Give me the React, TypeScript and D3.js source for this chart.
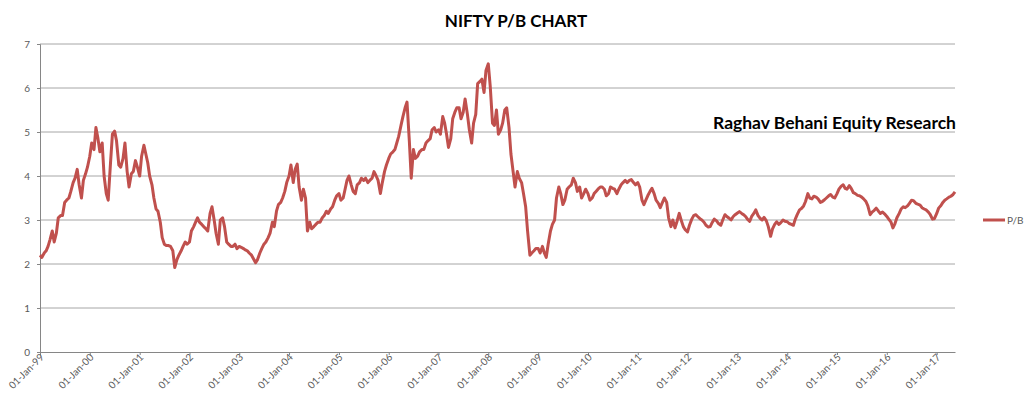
import React, { useEffect, useRef } from 'react';
import * as d3 from 'd3';

// half-monthly readings (1st and 15th of each month), P/B ratio
const pb1999 = [2.2, 2.15, 2.25, 2.3, 2.4, 2.55, 2.75, 2.5, 2.7, 3.05, 3.1, 3.1, 3.4, 3.45, 3.5, 3.65, 3.85, 3.95, 4.15, 3.8, 3.5, 3.9, 4.05, 4.2];
const pb2000 = [4.45, 4.75, 4.6, 5.1, 4.85, 4.55, 4.75, 4.0, 3.6, 3.45, 4.3, 4.95, 5.02, 4.8, 4.25, 4.2, 4.4, 4.75, 4.1, 3.75, 4.05, 4.1, 4.35, 4.2];
const pb2001 = [4.0, 4.45, 4.7, 4.5, 4.3, 4.0, 3.8, 3.5, 3.25, 3.2, 2.95, 2.6, 2.45, 2.42, 2.42, 2.4, 2.3, 1.92, 2.1, 2.2, 2.3, 2.4, 2.5, 2.45];
const pb2002 = [2.5, 2.75, 2.85, 2.95, 3.05, 2.95, 2.9, 2.85, 2.8, 2.75, 3.15, 3.3, 3.0, 2.7, 2.45, 3.0, 3.05, 2.85, 2.5, 2.45, 2.4, 2.4, 2.45, 2.35];
const pb2003 = [2.4, 2.38, 2.35, 2.32, 2.3, 2.25, 2.2, 2.12, 2.03, 2.1, 2.25, 2.35, 2.45, 2.5, 2.6, 2.7, 2.95, 2.85, 3.2, 3.35, 3.4, 3.5, 3.65, 3.85];
const pb2004 = [4.0, 4.25, 3.85, 4.15, 4.27, 3.75, 3.45, 3.7, 3.5, 2.75, 2.95, 2.8, 2.85, 2.9, 2.95, 2.95, 3.05, 3.1, 3.2, 3.15, 3.25, 3.3, 3.45, 3.55];
const pb2005 = [3.6, 3.45, 3.5, 3.7, 3.9, 4.0, 3.8, 3.65, 3.6, 3.8, 3.85, 3.95, 3.9, 3.95, 3.85, 3.9, 3.95, 4.1, 4.0, 3.9, 3.6, 3.85, 4.1, 4.25];
const pb2006 = [4.4, 4.5, 4.55, 4.6, 4.75, 4.9, 5.15, 5.35, 5.55, 5.68, 4.8, 3.95, 4.6, 4.4, 4.45, 4.55, 4.6, 4.6, 4.75, 4.8, 4.85, 5.05, 5.1, 5.0];
const pb2007 = [5.05, 4.95, 5.35, 5.2, 4.95, 4.65, 4.85, 5.3, 5.45, 5.55, 5.55, 5.3, 5.45, 5.75, 5.4, 5.05, 4.75, 5.2, 5.4, 6.1, 6.15, 6.2, 5.9, 6.4];
const pb2008 = [6.55, 6.05, 5.2, 5.15, 5.5, 4.95, 5.05, 5.2, 5.5, 5.55, 5.1, 4.5, 4.1, 3.75, 4.1, 3.95, 3.85, 3.6, 3.3, 2.75, 2.2, 2.25, 2.3, 2.35];
const pb2009 = [2.35, 2.25, 2.4, 2.25, 2.15, 2.45, 2.75, 2.9, 3.0, 3.5, 3.75, 3.6, 3.35, 3.45, 3.7, 3.75, 3.8, 3.95, 3.85, 3.65, 3.75, 3.5, 3.6, 3.7];
const pb2010 = [3.6, 3.45, 3.5, 3.6, 3.65, 3.7, 3.75, 3.75, 3.7, 3.55, 3.6, 3.75, 3.72, 3.7, 3.6, 3.7, 3.8, 3.85, 3.9, 3.85, 3.9, 3.92, 3.85, 3.8];
const pb2011 = [3.85, 3.75, 3.45, 3.35, 3.45, 3.55, 3.65, 3.72, 3.6, 3.45, 3.38, 3.28, 3.4, 3.5, 3.4, 3.05, 2.85, 3.0, 2.82, 2.96, 3.15, 3.0, 2.85, 2.78];
const pb2012 = [2.73, 2.88, 3.02, 3.1, 3.12, 3.08, 3.03, 3.0, 2.95, 2.88, 2.84, 2.85, 2.95, 3.02, 2.98, 2.92, 2.88, 3.0, 3.12, 3.08, 3.04, 3.0, 3.08, 3.12];
const pb2013 = [3.16, 3.19, 3.15, 3.12, 3.08, 3.02, 2.97, 3.08, 3.15, 3.23, 3.1, 3.04, 3.0, 3.06, 2.98, 2.85, 2.63, 2.8, 2.9, 2.96, 2.9, 2.94, 3.0, 2.97];
const pb2014 = [2.96, 2.92, 2.9, 2.88, 3.02, 3.12, 3.23, 3.26, 3.32, 3.42, 3.6, 3.5, 3.48, 3.54, 3.52, 3.48, 3.4, 3.42, 3.46, 3.5, 3.55, 3.58, 3.52, 3.5];
const pb2015 = [3.6, 3.7, 3.77, 3.8, 3.72, 3.7, 3.78, 3.72, 3.62, 3.6, 3.56, 3.55, 3.52, 3.48, 3.42, 3.32, 3.12, 3.18, 3.22, 3.27, 3.2, 3.15, 3.18, 3.14];
const pb2016 = [3.08, 3.02, 2.95, 2.82, 2.92, 3.05, 3.15, 3.25, 3.3, 3.28, 3.32, 3.38, 3.45, 3.44, 3.38, 3.36, 3.34, 3.28, 3.25, 3.23, 3.18, 3.12, 3.02, 3.03];
const pb2017 = [3.15, 3.27, 3.33, 3.4, 3.45, 3.48, 3.52, 3.54, 3.58, 3.64];

const years: [number, number[]][] = [
  [1999, pb1999], [2000, pb2000], [2001, pb2001], [2002, pb2002], [2003, pb2003],
  [2004, pb2004], [2005, pb2005], [2006, pb2006], [2007, pb2007], [2008, pb2008],
  [2009, pb2009], [2010, pb2010], [2011, pb2011], [2012, pb2012], [2013, pb2013],
  [2014, pb2014], [2015, pb2015], [2016, pb2016], [2017, pb2017],
];

const yTicks = [0, 1, 2, 3, 4, 5, 6, 7];
const tickYears = d3.range(1999, 2018);

const title = 'NIFTY P/B CHART';
const watermark = 'Raghav Behani Equity Research';
const seriesName = 'P/B';

interface Point { date: Date; value: number }

const App: React.FC = () => {
  const ref = useRef<SVGSVGElement>(null);

  useEffect(() => {
    const data: Point[] = [];
    years.forEach(([yr, vals]) => {
      vals.forEach((v, i) => {
        data.push({ date: new Date(yr, Math.floor(i / 2), i % 2 === 0 ? 1 : 15), value: v });
      });
    });

    const svg = d3.select(ref.current);
    svg.selectAll('*').remove();

    const left = 40, right = 955, top = 44, bottom = 352;
    const font = 'Lato, "Open Sans", sans-serif';

    const x = d3.scaleTime()
      .domain([new Date(1999, 0, 1), new Date(2017, 4, 15)])
      .range([left, right]);
    const y = d3.scaleLinear().domain([0, 7]).range([bottom, top]);

    // gridlines
    svg.append('g')
      .selectAll('line')
      .data(yTicks.slice(1))
      .enter().append('line')
      .attr('x1', left).attr('x2', right)
      .attr('y1', d => y(d)).attr('y2', d => y(d))
      .attr('stroke', '#a6a6a6').attr('stroke-width', 1);

    // y axis
    const yAxis = svg.append('g')
      .attr('transform', `translate(${left},0)`)
      .call(d3.axisLeft(y).tickValues(yTicks).tickSize(3).tickFormat(d3.format('d')));
    yAxis.select('.domain').attr('stroke', '#868686');
    yAxis.selectAll('.tick line').attr('stroke', '#868686');
    yAxis.selectAll('text')
      .attr('font-family', font).attr('font-size', 10).attr('fill', '#595959').attr('x', -10);

    // x axis
    const xAxis = svg.append('g')
      .attr('transform', `translate(0,${bottom})`)
      .call(d3.axisBottom(x)
        .tickValues(tickYears.map(yr => new Date(yr, 0, 1)))
        .tickSize(3)
        .tickSizeOuter(0)
        .tickFormat(d => d3.timeFormat('%d-%b-%y')(d as Date)));
    xAxis.select('.domain').attr('stroke', '#868686');
    xAxis.selectAll('.tick line').attr('stroke', '#868686');
    xAxis.selectAll('text')
      .attr('font-family', font).attr('font-size', 10).attr('fill', '#595959')
      .attr('x', 0).attr('y', 0).attr('dy', 0)
      .attr('transform', 'translate(4,6) rotate(-45)')
      .style('text-anchor', 'end');

    // series line
    const line = d3.line<Point>()
      .x(d => x(d.date))
      .y(d => y(d.value));
    svg.append('path')
      .datum(data)
      .attr('d', line)
      .attr('fill', 'none')
      .attr('stroke', '#c0504d')
      .attr('stroke-width', 3)
      .attr('stroke-linejoin', 'round');

    // title
    svg.append('text')
      .attr('x', 516).attr('y', 27)
      .attr('text-anchor', 'middle')
      .attr('font-family', font).attr('font-weight', 'bold').attr('font-size', 17)
      .attr('fill', '#000')
      .text(title);

    // watermark
    svg.append('text')
      .attr('x', 956).attr('y', 129)
      .attr('text-anchor', 'end')
      .attr('font-family', font).attr('font-weight', 'bold').attr('font-size', 17.5)
      .attr('fill', '#000')
      .text(watermark);

    // legend
    const lg = svg.append('g').attr('transform', 'translate(983,220)');
    lg.append('line').attr('x1', 0).attr('x2', 22).attr('y1', 0).attr('y2', 0)
      .attr('stroke', '#c0504d').attr('stroke-width', 3);
    lg.append('text').attr('x', 24).attr('y', 4)
      .attr('font-family', font).attr('font-size', 10).attr('fill', '#595959')
      .text(seriesName);
  }, []);

  return (
    <svg
      ref={ref}
      width={1024}
      height={403}
      style={{ position: 'absolute', left: 0, top: 0, background: '#fff' }}
    />
  );
};

export default App;
